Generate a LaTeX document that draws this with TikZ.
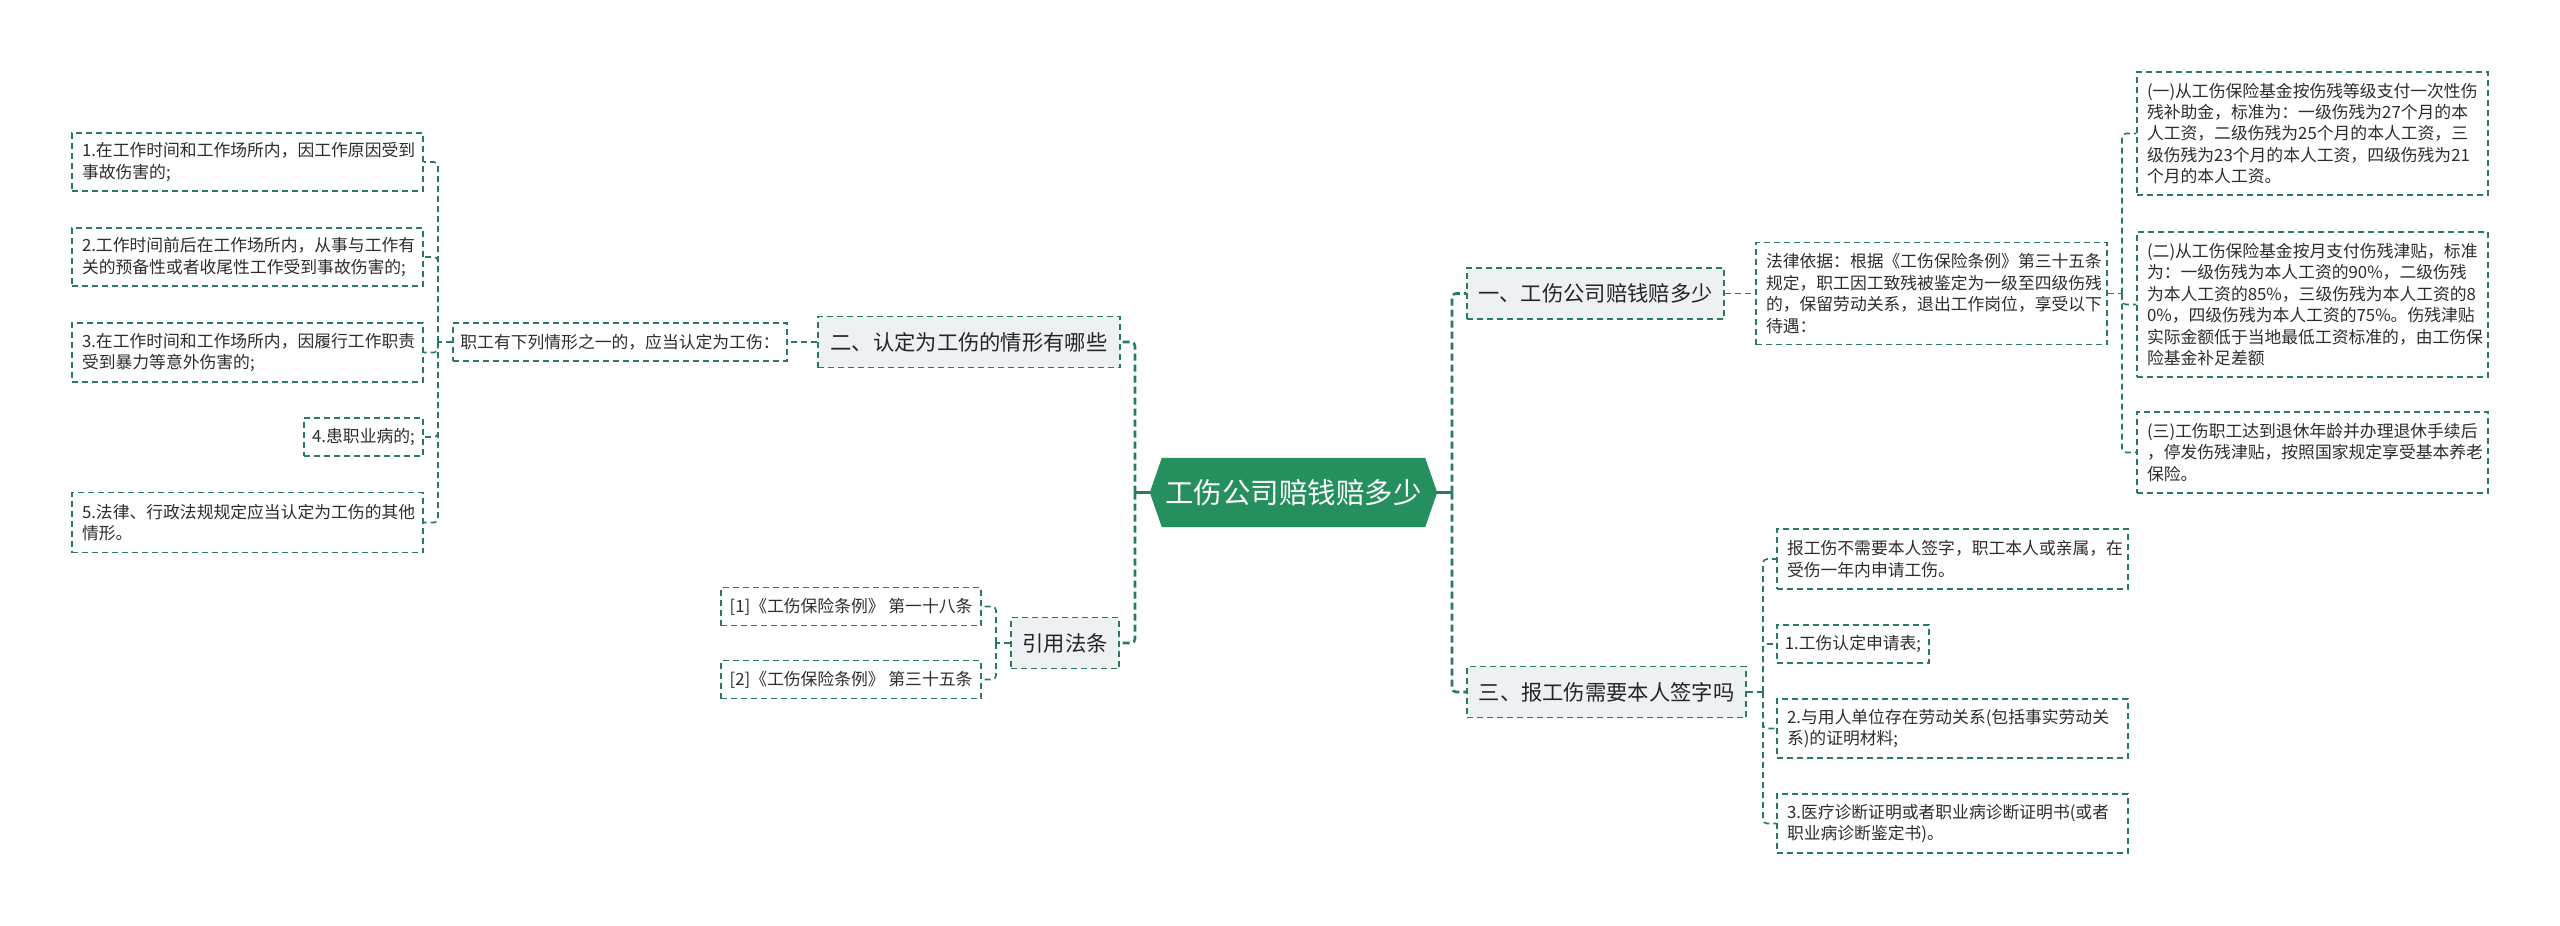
\documentclass[tikz,border=0pt]{standalone}
\usepackage{fontspec}
\setmainfont{Noto Sans CJK SC}
\usetikzlibrary{backgrounds}
\definecolor{lineg}{RGB}{40,125,88}
\definecolor{mainfill}{RGB}{38,143,94}
\definecolor{lvfill}{RGB}{238,241,244}
\definecolor{txt}{RGB}{45,45,45}
\begin{document}
\begin{tikzpicture}[x=1pt,y=-1pt,
  dbox/.style={draw=lineg, line width=1.4pt, dash pattern=on 6pt off 4pt, inner xsep=10pt, inner ysep=0pt, align=left, text=txt, font=\fontsize{16.8}{21.4}\selectfont},
  wide/.style={dbox, text width=331pt, minimum height=#1},
  small/.style={dbox, minimum height=38pt, minimum width=#1, inner xsep=0pt},
  lvone/.style={draw=lineg, fill=lvfill, line width=1.4pt, dash pattern=on 6pt off 4pt, font=\fontsize{21.3}{26}\selectfont, text=txt!80!black, inner sep=0pt, minimum height=51pt, minimum width=#1},
  conn/.style={draw=lineg, line width=1.6pt, dash pattern=on 6pt off 4pt, rounded corners=4pt},
  spine/.style={draw=lineg, line width=2.6pt, dash pattern=on 7pt off 4pt, rounded corners=4pt},
  trunk/.style={draw=lineg, line width=2.6pt},
]
\useasboundingbox (0,0) rectangle (2560,926);

% center
\node[font=\fontsize{28.5}{34}\selectfont, text=white, minimum width=263pt, minimum height=69pt, inner sep=0pt] (c) at (1293.5,492.5) {工伤公司赔钱赔多少};
\begin{scope}[on background layer]
\fill[white] (0,0) rectangle (2560,926);
\fill[mainfill] (c.north west) -- (c.north east) -- ([xshift=12pt]c.east) -- (c.south east) -- (c.south west) -- ([xshift=-12pt]c.west) -- cycle;
\end{scope}

% left side
\node[lvone=302pt] (b2) at (969,342) {二、认定为工伤的情形有哪些};
\node[small=334pt] (zg) at (620,342) {职工有下列情形之一的，应当认定为工伤：};
\node[wide=58pt] (i1) at (247.5,162) {1.在工作时间和工作场所内，因工作原因受到\\事故伤害的;};
\node[wide=58pt] (i2) at (247.5,257) {2.工作时间前后在工作场所内，从事与工作有\\关的预备性或者收尾性工作受到事故伤害的;};
\node[wide=59pt] (i3) at (247.5,352.5) {3.在工作时间和工作场所内，因履行工作职责\\受到暴力等意外伤害的;};
\node[small=119pt] (i4) at (363.5,437) {4.患职业病的;};
\node[wide=60pt] (i5) at (247.5,522.5) {5.法律、行政法规规定应当认定为工伤的其他\\情形。};

\node[lvone=108pt] (cite) at (1065,643) {引用法条};
\node[small=260pt] (r1) at (851,606.5) {[1]《工伤保险条例》 第一十八条};
\node[small=260pt] (r2) at (851,679.5) {[2]《工伤保险条例》 第三十五条};

% right side
\node[lvone=257pt] (b1) at (1595.5,293.5) {一、工伤公司赔钱赔多少};
\node[wide=102pt] (law) at (1931.5,293.5) {法律依据：根据《工伤保险条例》第三十五条\\规定，职工因工致残被鉴定为一级至四级伤残\\的，保留劳动关系，退出工作岗位，享受以下\\待遇：};
\node[wide=123pt] (p1) at (2312.5,133.5) {(一)从工伤保险基金按伤残等级支付一次性伤\\残补助金，标准为：一级伤残为27个月的本\\人工资，二级伤残为25个月的本人工资，三\\级伤残为23个月的本人工资，四级伤残为21\\个月的本人工资。};
\node[wide=145pt] (p2) at (2312.5,304.5) {(二)从工伤保险基金按月支付伤残津贴，标准\\为：一级伤残为本人工资的90\%，二级伤残\\为本人工资的85\%，三级伤残为本人工资的8\\0\%，四级伤残为本人工资的75\%。伤残津贴\\实际金额低于当地最低工资标准的，由工伤保\\险基金补足差额};
\node[wide=81pt] (p3) at (2312.5,452.5) {(三)工伤职工达到退休年龄并办理退休手续后\\，停发伤残津贴，按照国家规定享受基本养老\\保险。};

\node[lvone=279pt] (b3) at (1606.5,692) {三、报工伤需要本人签字吗};
\node[wide=60pt] (q1) at (1952.5,559) {报工伤不需要本人签字，职工本人或亲属，在\\受伤一年内申请工伤。};
\node[small=152pt] (q2) at (1853,644) {1.工伤认定申请表;};
\node[wide=59pt] (q3) at (1952.5,728.5) {2.与用人单位存在劳动关系(包括事实劳动关\\系)的证明材料;};
\node[wide=59pt] (q4) at (1952.5,823.5) {3.医疗诊断证明或者职业病诊断证明书(或者\\职业病诊断鉴定书)。};

% connectors
\coordinate (ls) at (1135,492.5);
\coordinate (rs) at (1452,492.5);
\draw[trunk] ([xshift=-12pt]c.west) -- (ls);
\draw[trunk] ([xshift=12pt]c.east) -- (rs);
\draw[spine] (ls) |- (b2.east);
\draw[spine] (ls) |- (cite.east);
\draw[spine] (rs) |- (b1.west);
\draw[spine] (rs) |- (b3.west);

\draw[conn] (b2.west) -- (zg.east);
\coordinate (s2) at (438,342);
\draw[conn] (zg.west) -- (s2);
\foreach \n in {i1,i2,i3,i4,i5} \draw[conn] (s2) |- (\n.east);

\coordinate (s4) at (996,643);
\draw[conn] (cite.west) -- (s4);
\foreach \n in {r1,r2} \draw[conn] (s4) |- (\n.east);

\draw[conn] (b1.east) -- (law.west);
\coordinate (s1) at (2122,293.5);
\draw[conn] (law.east) -- (s1);
\foreach \n in {p1,p2,p3} \draw[conn] (s1) |- (\n.west);

\coordinate (s3) at (1763,692);
\draw[conn] (b3.east) -- (s3);
\foreach \n in {q1,q2,q3,q4} \draw[conn] (s3) |- (\n.west);
\end{tikzpicture}
\end{document}
